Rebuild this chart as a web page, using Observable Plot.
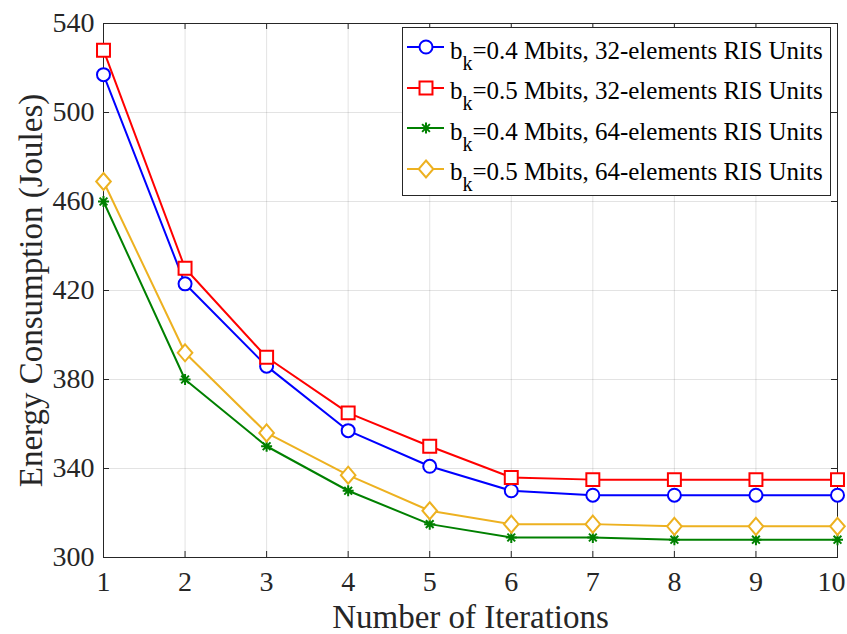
<!DOCTYPE html>
<html>
<head>
<meta charset="utf-8">
<script src="https://cdn.jsdelivr.net/npm/d3@7"></script>
<script src="https://cdn.jsdelivr.net/npm/@observablehq/plot@0.6"></script>
<style>
  body { margin: 0; background: #fff; }
  #wrap { position: relative; width: 847px; height: 634px; }
  #legend {
    position: absolute; left: 402px; top: 27px; width: 429px; height: 169px;
    border: 1px solid #262626; background: #fff; box-sizing: border-box;
    font-family: "Liberation Serif", "Times New Roman", serif; font-size: 25px; color: #000;
  }
  .row { position: absolute; left: 0; height: 40px; display: flex; align-items: center; white-space: nowrap; }
  .row svg { flex: none; }
  .lab { margin-left: 3px; line-height: 1; position: relative; top: 3px; }
  .lab sub { font-size: 20px; vertical-align: -11px; line-height: 0; }
</style>
</head>
<body>
<div id="wrap"></div>
<script>
// ---- data ----
const iterations = [1, 2, 3, 4, 5, 6, 7, 8, 9, 10];
const energy_04_32 = [517, 423, 386, 357, 341, 330, 328, 328, 328, 328];
const energy_05_32 = [528, 430, 390, 365, 350, 336, 335, 335, 335, 335];
const energy_04_64 = [460, 380, 350, 330, 315, 309, 309, 308, 308, 308];
const energy_05_64 = [469, 392, 356, 337, 321, 315, 315, 314, 314, 314];
const bitsLabels = ["0.4", "0.5", "0.4", "0.5"];
const risLabels = ["32-elements", "32-elements", "64-elements", "64-elements"];
const xTicks = [1, 2, 3, 4, 5, 6, 7, 8, 9, 10];
const yTicks = [300, 340, 380, 420, 460, 500, 540];
const xLabel = "Number of Iterations";
const yLabel = "Energy Consumption (Joules)";

// ---- styles ----
const colors = ["#0000ff", "#ff0000", "#008000", "#EDB120"];
const diamond = {
  draw(ctx, size) {
    const r = Math.sqrt(size / Math.PI), w = r * 0.86;
    ctx.moveTo(0, -r); ctx.lineTo(w, 0); ctx.lineTo(0, r); ctx.lineTo(-w, 0); ctx.closePath();
  }
};
const square = {
  draw(ctx, size) {
    const r = Math.sqrt(size / Math.PI), s = r * 0.9;
    ctx.moveTo(-s, -s); ctx.lineTo(s, -s); ctx.lineTo(s, s); ctx.lineTo(-s, s); ctx.closePath();
  }
};
const asterisk = {
  draw(ctx, size) {
    const r = Math.sqrt(size / Math.PI), d = r * Math.SQRT1_2;
    ctx.moveTo(-r, 0); ctx.lineTo(r, 0);
    ctx.moveTo(0, -r); ctx.lineTo(0, r);
    ctx.moveTo(-d, -d); ctx.lineTo(d, d);
    ctx.moveTo(-d, d); ctx.lineTo(d, -d);
  }
};
const symbols = [d3.symbolCircle, square, asterisk, diamond];
const radii = [6.5, 7.2, 5.5, 8.5];

const seriesValues = [energy_04_32, energy_05_32, energy_04_64, energy_05_64];
const series = seriesValues.map((vals, k) => ({
  key: k,
  name: `b_k=${bitsLabels[k]} Mbits, ${risLabels[k]} RIS Units`,
  rows: vals.map((v, i) => ({ x: iterations[i], y: v }))
}));

const W = 847, H = 634, mL = 103, mR = 10, mT = 23, mB = 77;
const fw = W - mL - mR, fh = H - mT - mB;
const lastX = xTicks[xTicks.length - 1];

const marks = [
  Plot.gridX(xTicks, { stroke: "#262626", strokeOpacity: 0.13, strokeWidth: 1 }),
  Plot.gridY(yTicks, { stroke: "#262626", strokeOpacity: 0.13, strokeWidth: 1 }),
  Plot.ruleX(xTicks, { stroke: "#262626", insetTop: fh - 6 }),
  Plot.ruleX(xTicks, { stroke: "#262626", insetBottom: fh - 6 }),
  Plot.ruleY(yTicks, { stroke: "#262626", insetRight: fw - 6 }),
  Plot.ruleY(yTicks, { stroke: "#262626", insetLeft: fw - 6 }),
  Plot.frame({ stroke: "#262626", strokeWidth: 1 }),
  Plot.axisX(xTicks.filter(d => d !== lastX), { tickSize: 0, tickPadding: 14, fontSize: 28, label: null, tickFormat: d => String(d) }),
  Plot.axisX([lastX], { tickSize: 0, tickPadding: 14, fontSize: 28, label: null, dx: -6, tickFormat: d => String(d) }),
  Plot.axisY(yTicks, { tickSize: 0, tickPadding: 9, fontSize: 28, label: null, tickFormat: d => String(d) }),
  Plot.text([xLabel], { text: d => d, frameAnchor: "bottom", dy: 60, fontSize: 33, lineAnchor: "middle", textAnchor: "middle", fill: "#262626" }),
  Plot.text([yLabel], { text: d => d, frameAnchor: "left", dx: -72, rotate: -90, fontSize: 33, lineAnchor: "middle", textAnchor: "middle", fill: "#262626" })
];
series.forEach(s => {
  marks.push(Plot.line(s.rows, { x: "x", y: "y", stroke: colors[s.key], strokeWidth: 2 }));
  marks.push(Plot.dot(s.rows, { x: "x", y: "y", stroke: colors[s.key], strokeWidth: 2,
    fill: s.key === 2 ? "none" : "#fff", symbol: symbols[s.key], r: radii[s.key] }));
});

const chart = Plot.plot({
  width: W, height: H,
  marginLeft: mL, marginRight: mR, marginTop: mT, marginBottom: mB,
  x: { domain: [1, 10] },
  y: { domain: [300, 540] },
  style: { fontFamily: "'Liberation Serif', 'Times New Roman', serif", color: "#262626", background: "#fff", overflow: "visible" },
  marks
});
const wrap = document.getElementById("wrap");
wrap.appendChild(chart);

// ---- legend ----
const legend = document.createElement("div");
legend.id = "legend";
series.forEach((s, i) => {
  const row = document.createElement("div");
  row.className = "row";
  row.style.top = (i * 40.5 - 1) + "px";
  const svg = d3.create("svg").attr("width", 44).attr("height", 40);
  svg.append("line").attr("x1", 4).attr("x2", 41).attr("y1", 20).attr("y2", 20)
    .attr("stroke", colors[i]).attr("stroke-width", 2);
  svg.append("path").attr("transform", "translate(23,20)")
    .attr("d", d3.symbol(symbols[i], Math.PI * radii[i] * radii[i])())
    .attr("stroke", colors[i]).attr("stroke-width", 2).attr("fill", i === 2 ? "none" : "#fff");
  row.appendChild(svg.node());
  const lab = document.createElement("span");
  lab.className = "lab";
  const [pre, post] = s.name.split("_k");
  lab.innerHTML = `${pre}<sub>k</sub>${post}`;
  row.appendChild(lab);
  legend.appendChild(row);
});
wrap.appendChild(legend);
</script>
</body>
</html>
